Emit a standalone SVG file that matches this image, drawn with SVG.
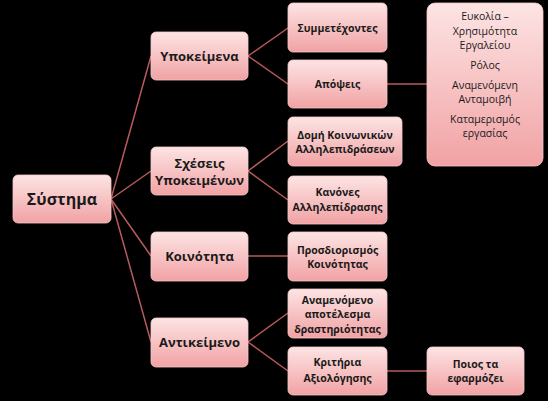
<svg xmlns="http://www.w3.org/2000/svg" width="548" height="401" viewBox="0 0 548 401">
<defs>
<linearGradient id="g" x1="0" y1="0" x2="0" y2="1">
<stop offset="0" stop-color="#fde4e4"/>
<stop offset="1" stop-color="#f1a2a4"/>
</linearGradient>
<style>
.box{fill:url(#g);stroke:#f6c8c8;stroke-width:0.8}
.c{stroke:#b85a5c;stroke-width:1.5;fill:none}
text{font-family:"Open Sans","Noto Sans","Liberation Sans",sans-serif;fill:#1a1a1a;text-anchor:middle}
.t0{font-size:16px;font-weight:bold}
.t1{font-size:13px;font-weight:bold}
.t2{font-size:10.5px;font-weight:bold}
.t3{font-size:10.5px}
</style>
</defs>
<rect width="548" height="401" fill="#000"/>
<g id="connectors">
<path class="c" d="M111 199 L151 56 M111 199 L151 171 M111 199 L151 256 M111 199 L151 342"/>
<path class="c" d="M248 56 L288 28 M248 56 L288 84"/>
<path class="c" d="M248 171 L288 141 M248 171 L288 200"/>
<path class="c" d="M248 256 L288 256"/>
<path class="c" d="M248 342 L288 313 M248 342 L288 371"/>
<path class="c" d="M387 84 L427 84"/>
<path class="c" d="M387 371 L427 371"/>
</g>
<g id="n-systima"><rect class="box" x="13" y="175" width="98" height="48" rx="5"/><text class="t0" x="62" y="205">Σύστημα</text></g>
<g id="n-ypokeimena"><rect class="box" x="151" y="32" width="97" height="48" rx="5"/><text class="t1" x="199.5" y="61">Υποκείμενα</text></g>
<g id="n-scheseis"><rect class="box" x="151" y="147" width="97" height="48" rx="5"/><text class="t1" x="199.5" y="168">Σχέσεις</text><text class="t1" x="199.5" y="185">Υποκειμένων</text></g>
<g id="n-koinotita"><rect class="box" x="151" y="232" width="97" height="49" rx="5"/><text class="t1" x="199.5" y="261">Κοινότητα</text></g>
<g id="n-antikeimeno"><rect class="box" x="151" y="318" width="97" height="49" rx="5"/><text class="t1" x="199.5" y="347">Αντικείμενο</text></g>
<g id="n-symmetexontes"><rect class="box" x="288" y="3" width="99" height="49" rx="5"/><text class="t2" x="337.5" y="32">Συμμετέχοντες</text></g>
<g id="n-apopseis"><rect class="box" x="288" y="60" width="99" height="48" rx="5"/><text class="t2" x="337.5" y="88">Απόψεις</text></g>
<g id="n-domi"><rect class="box" x="288" y="117" width="114" height="49" rx="5"/><text class="t2" x="345" y="139">Δομή Κοινωνικών</text><text class="t2" x="345" y="153">Αλληλεπιδράσεων</text></g>
<g id="n-kanones"><rect class="box" x="288" y="176" width="99" height="48" rx="5"/><text class="t2" x="337.5" y="196">Κανόνες</text><text class="t2" x="337.5" y="211">Αλληλεπίδρασης</text></g>
<g id="n-prosdiorismos"><rect class="box" x="288" y="232" width="99" height="49" rx="5"/><text class="t2" x="337.5" y="254">Προσδιορισμός</text><text class="t2" x="337.5" y="268">Κοινότητας</text></g>
<g id="n-anamenomeno"><rect class="box" x="288" y="289" width="99" height="49" rx="5"/><text class="t2" x="337.5" y="304">Αναμενόμενο</text><text class="t2" x="337.5" y="318">αποτέλεσμα</text><text class="t2" x="337.5" y="333">δραστηριότητας</text></g>
<g id="n-kritiria"><rect class="box" x="288" y="347" width="99" height="48" rx="5"/><text class="t2" x="337.5" y="366">Κριτήρια</text><text class="t2" x="337.5" y="382">Αξιολόγησης</text></g>
<g id="n-details"><rect class="box" x="427" y="3" width="116" height="163" rx="8"/>
<text class="t3" x="485" y="20">Ευκολία –</text>
<text class="t3" x="485" y="35">Χρησιμότητα</text>
<text class="t3" x="485" y="49">Εργαλείου</text>
<text class="t3" x="485" y="69">Ρόλος</text>
<text class="t3" x="485" y="89">Αναμενόμενη</text>
<text class="t3" x="485" y="103">Ανταμοιβή</text>
<text class="t3" x="485" y="123">Καταμερισμός</text>
<text class="t3" x="485" y="137">εργασίας</text>
</g>
<g id="n-poios"><rect class="box" x="427" y="347" width="97" height="48" rx="5"/><text class="t2" x="475.5" y="368">Ποιος τα</text><text class="t2" x="475.5" y="382">εφαρμόζει</text></g>
</svg>
